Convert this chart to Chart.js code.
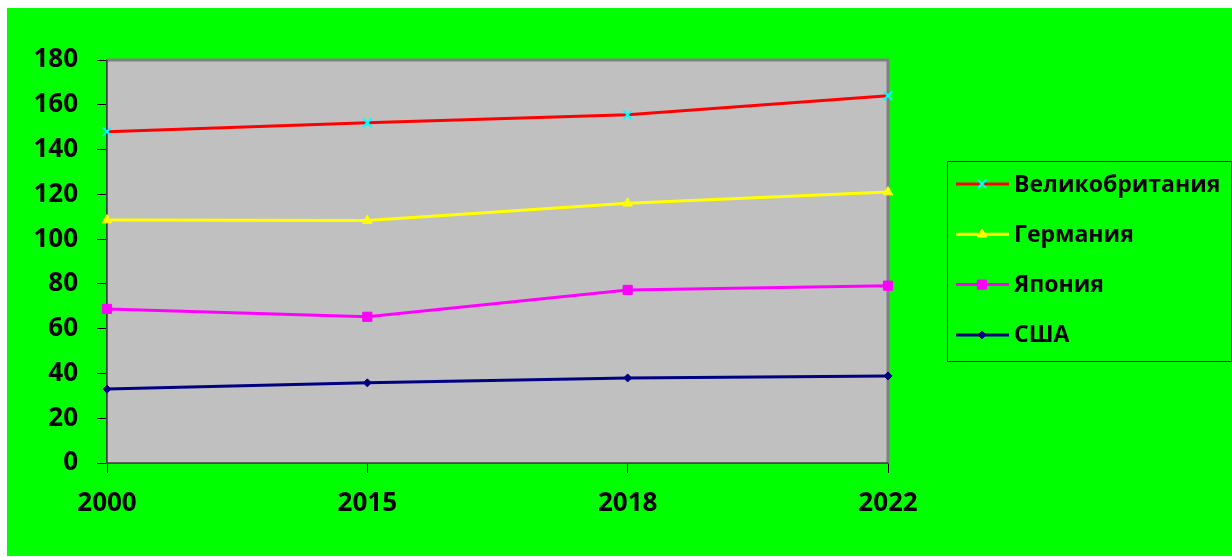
<!DOCTYPE html>
<html>
<head>
<meta charset="utf-8">
<script src="https://cdn.jsdelivr.net/npm/chart.js@4.4.0/dist/chart.umd.min.js"></script>
<style>
  html, body { margin: 0; padding: 0; background: #ffffff; }
  #wrap {
    position: absolute;
    left: 7px;
    top: 8px;
    width: 1225px;
    height: 548px;
    background: #00ff00;
  }
  canvas { display: block; }
</style>
</head>
<body>
<div id="wrap">
  <canvas id="chart" width="1225" height="548"></canvas>
</div>
<script>
const years = ['2000', '2015', '2018', '2022'];
const ukValues = [148, 152, 155.5, 164];
const germanyValues = [108.5, 108.3, 116, 121];
const japanValues = [68.8, 65.3, 77.3, 79.2];
const usaValues = [33, 35.8, 38, 38.9];
const yTicks = [0, 20, 40, 60, 80, 100, 120, 140, 160, 180];

const fontFamily = "'Open Sans', 'Noto Sans', sans-serif";

// Plot area fill + gray frame, like the Excel original
const plotAreaPlugin = {
    id: 'plotArea',
    beforeDatasetsDraw(chart) {
        const { ctx, chartArea: a } = chart;
        ctx.save();
        ctx.fillStyle = '#c0c0c0';
        ctx.fillRect(a.left, a.top, a.right - a.left, a.bottom - a.top);
        ctx.strokeStyle = '#808080';
        ctx.lineWidth = 3;
        ctx.beginPath();
        ctx.moveTo(a.left, a.top);
        ctx.lineTo(a.right, a.top);
        ctx.lineTo(a.right, a.bottom);
        ctx.stroke();
        ctx.strokeStyle = '#404040';
        ctx.lineWidth = 1.5;
        ctx.beginPath();
        ctx.moveTo(a.left, a.top);
        ctx.lineTo(a.left, a.bottom);
        ctx.lineTo(a.right, a.bottom);
        ctx.stroke();
        ctx.restore();
    }
};

// Boxed legend with line + marker samples
const boxLegendPlugin = {
    id: 'boxLegend',
    afterDraw(chart) {
        const { ctx } = chart;
        const box = { x: 940, y: 153, w: 284, h: 200 };
        ctx.save();
        ctx.strokeStyle = '#1a1a1a';
        ctx.lineWidth = 1;
        ctx.strokeRect(box.x + 0.5, box.y + 0.5, box.w, box.h);

        chart.data.datasets.forEach((ds, row) => {
            const cy = box.y + 23 + row * 50.3;
            ctx.strokeStyle = ds.borderColor;
            ctx.lineWidth = 3;
            ctx.beginPath();
            ctx.moveTo(box.x + 9, cy);
            ctx.lineTo(box.x + 62, cy);
            ctx.stroke();
            ctx.fillStyle = ds.pointBackgroundColor;
            ctx.strokeStyle = ds.pointBorderColor;
            ctx.lineWidth = ds.pointBorderWidth;
            Chart.helpers.drawPoint(ctx, {
                pointStyle: ds.pointStyle,
                radius: ds.pointRadius,
                borderWidth: ds.pointBorderWidth
            }, box.x + 35, cy);
            ctx.fillStyle = '#000000';
            ctx.font = 'bold 23px ' + fontFamily;
            ctx.textBaseline = 'middle';
            ctx.textAlign = 'left';
            ctx.fillText(ds.label, box.x + 67, cy + 1);
        });
        ctx.restore();
    }
};

function pointSettings(style, color, radius, border) {
    return {
        pointStyle: style,
        pointRadius: radius,
        pointHoverRadius: radius,
        pointBackgroundColor: color,
        pointBorderColor: color,
        pointBorderWidth: border
    };
}

const ctx = document.getElementById('chart').getContext('2d');
const chart = new Chart(ctx, {
    type: 'line',
    data: {
        labels: years,
        datasets: [
            Object.assign({
                label: 'Великобритания',
                data: ukValues,
                borderColor: '#ff0000',
                borderWidth: 3
            }, pointSettings('crossRot', '#00ffff', 6, 2)),
            Object.assign({
                label: 'Германия',
                data: germanyValues,
                borderColor: '#ffff00',
                borderWidth: 3
            }, pointSettings('triangle', '#ffff00', 5.5, 1)),
            Object.assign({
                label: 'Япония',
                data: japanValues,
                borderColor: '#ff00ff',
                borderWidth: 3
            }, pointSettings('rect', '#ff00ff', 6.5, 1)),
            Object.assign({
                label: 'США',
                data: usaValues,
                borderColor: '#000080',
                borderWidth: 3
            }, pointSettings('rectRot', '#000080', 4, 1))
        ]
    },
    options: {
        responsive: false,
        animation: false,
        layout: {
            padding: { left: 0, top: 52, right: 344, bottom: 0 }
        },
        plugins: {
            legend: { display: false },
            tooltip: { enabled: false }
        },
        scales: {
            x: {
                offset: false,
                grid: {
                    offset: false,
                    drawOnChartArea: false,
                    drawTicks: true,
                    tickLength: 10,
                    color: '#000000'
                },
                border: { display: true, color: '#404040', width: 1.5 },
                ticks: {
                    color: '#000000',
                    padding: 15,
                    maxRotation: 0,
                    font: { family: fontFamily, size: 26, weight: 'bold' }
                },
                afterFit(scale) {
                    scale.height = 93;
                }
            },
            y: {
                min: 0,
                max: 180,
                afterBuildTicks(scale) {
                    scale.ticks = yTicks.map(v => ({ value: v }));
                },
                grid: {
                    drawOnChartArea: false,
                    drawTicks: true,
                    tickLength: 10,
                    color: '#000000'
                },
                border: { display: true, color: '#404040', width: 1.5 },
                ticks: {
                    color: '#000000',
                    padding: 19,
                    font: { family: fontFamily, size: 26, weight: 'bold' }
                },
                afterFit(scale) {
                    scale.width = 100;
                }
            }
        }
    },
    plugins: [plotAreaPlugin, boxLegendPlugin]
});
</script>
</body>
</html>
